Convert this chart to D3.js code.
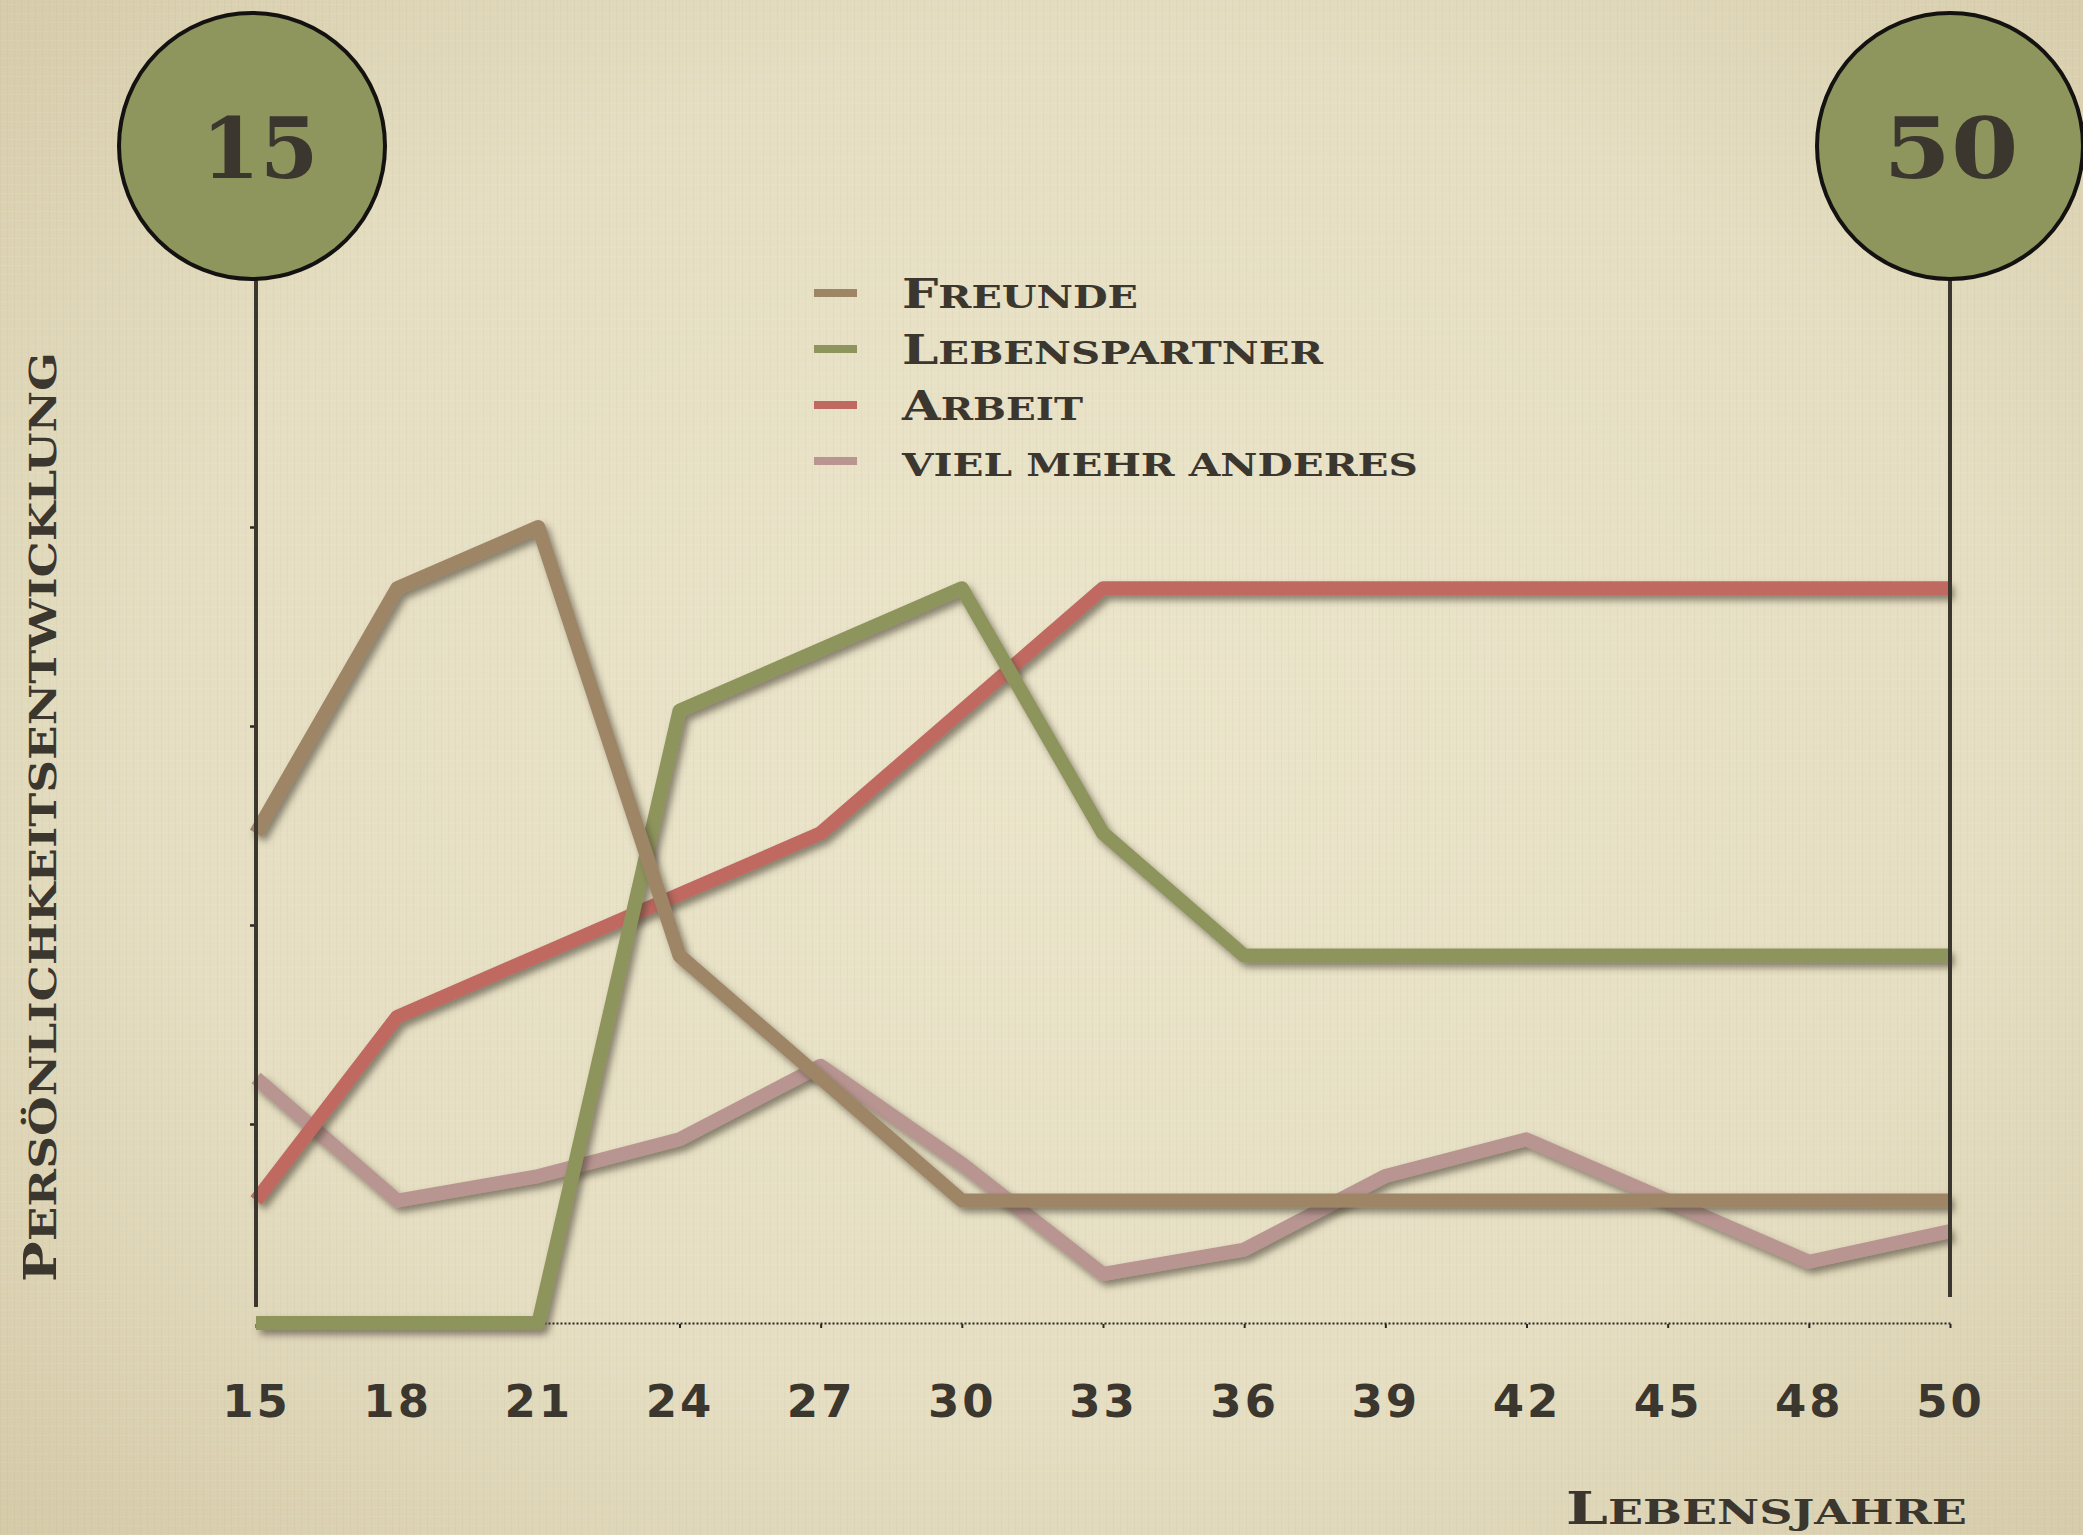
<!DOCTYPE html>
<meta charset="utf-8">
<script src="https://d3js.org/d3.v7.min.js"></script>
<style>
  body { margin: 0; background: #e4dcbf; }
  svg { display: block; }
  .ink { fill: #3b362e; }
  .axis text { fill: #3b362e; font-family: "DejaVu Sans", sans-serif; font-weight: bold; font-size: 45px; letter-spacing: 3px; }
</style>
<body>
<div id="chart"></div>
<script>

// categories (age) and series values
var ages = ["15","18","21","24","27","30","33","36","39","42","45","48","50"];
var freunde       = [8, 12, 13, 6, 4, 2, 2, 2, 2, 2, 2, 2, 2];
var lebenspartner = [0, 0, 0, 10, 11, 12, 8, 6, 6, 6, 6, 6, 6];
var arbeit        = [2, 5, 6, 7, 8, 10, 12, 12, 12, 12, 12, 12, 12];
var vielMehr      = [4, 2, 2.4, 3, 4.2, 2.6, 0.8, 1.2, 2.4, 3, 2, 1, 1.5];
var seriesNames   = ["Freunde", "Lebenspartner", "Arbeit", "viel mehr anderes"];
var yTicks        = [3.25, 6.5, 9.75, 13];
var endAges       = ["15", "50"];
var yTitle = "Persönlichkeitsentwicklung";
var xTitle = "Lebensjahre";

var W = 2083, H = 1535;
var colors = ["#9e8566", "#8e955c", "#c06961", "#b99592"];
var series = [freunde, lebenspartner, arbeit, vielMehr];

var svg = d3.select("#chart").append("svg")
    .attr("width", W).attr("height", H);

var defs = svg.append("defs");
var bg = defs.append("radialGradient").attr("id", "bg")
    .attr("cx", "52%").attr("cy", "48%").attr("r", "75%");
bg.append("stop").attr("offset", "0%").attr("stop-color", "#ebe5cb");
bg.append("stop").attr("offset", "60%").attr("stop-color", "#e5dec2");
bg.append("stop").attr("offset", "100%").attr("stop-color", "#d4c9a7");

// light linen weave
var pat = defs.append("pattern").attr("id", "linen")
    .attr("width", 7).attr("height", 9).attr("patternUnits", "userSpaceOnUse");
pat.append("rect").attr("x", 0).attr("y", 0).attr("width", 1).attr("height", 9)
    .attr("fill", "#8a7550").attr("opacity", 0.05);
pat.append("rect").attr("x", 0).attr("y", 4).attr("width", 7).attr("height", 1)
    .attr("fill", "#ffffff").attr("opacity", 0.06);

var shadow = defs.append("filter").attr("id", "shadow")
    .attr("filterUnits", "userSpaceOnUse")
    .attr("x", 0).attr("y", 0).attr("width", W).attr("height", H);
shadow.append("feDropShadow")
    .attr("dx", 4).attr("dy", 5).attr("stdDeviation", 3.5)
    .attr("flood-color", "#4a4330").attr("flood-opacity", 0.6);

svg.append("rect").attr("width", W).attr("height", H).attr("fill", "url(#bg)");
svg.append("rect").attr("width", W).attr("height", H).attr("fill", "url(#linen)");

var x = d3.scalePoint().domain(ages).range([256, 1950]);
var y = d3.scaleLinear().domain([0, 13]).range([1323, 527]);

// x axis: dotted baseline with small ticks, labels below
var xAxis = svg.append("g").attr("class", "axis")
    .attr("transform", "translate(0," + y(0) + ")")
    .call(d3.axisBottom(x).tickSize(4).tickSizeOuter(0).tickPadding(58));
xAxis.select(".domain").attr("stroke", "#2a2620").attr("stroke-width", 2)
    .attr("stroke-dasharray", "2,2");
xAxis.selectAll(".tick line").attr("stroke", "#2a2620").attr("stroke-width", 2)
    .attr("transform", "translate(0,1)");

var yAxis = svg.append("g")
    .attr("transform", "translate(254,0)")
    .call(d3.axisLeft(y).tickValues(yTicks).tickSize(4).tickFormat(""));
yAxis.select(".domain").remove();
yAxis.selectAll(".tick line").attr("stroke", "#2a2620").attr("stroke-width", 2.5);

// data lines, last series drawn first
var line = d3.line()
    .x(function(d, i) { return x(ages[i]); })
    .y(function(d) { return y(d); });

svg.append("g").selectAll("path")
  .data(d3.range(series.length).reverse())
  .enter().append("path")
    .attr("d", function(k) { return line(series[k]); })
    .attr("fill", "none")
    .attr("stroke", function(k) { return colors[k]; })
    .attr("stroke-width", 14)
    .attr("stroke-linejoin", "round")
    .attr("filter", "url(#shadow)");

// vertical markers and circles for the start and end age
var lineBottom = [1307, 1297];
endAges.forEach(function(a, i) {
  var cx = x(a), cy = 146, r = 133;
  svg.append("line")
      .attr("x1", cx).attr("x2", cx)
      .attr("y1", cy + r).attr("y2", lineBottom[i])
      .attr("stroke", "#3b362e").attr("stroke-width", 4);
  svg.append("circle")
      .attr("cx", cx - 4 * (i === 0 ? 1 : 0)).attr("cy", cy).attr("r", r)
      .attr("fill", "#8e955d").attr("stroke", "#141210").attr("stroke-width", 4);
  svg.append("text").attr("class", "ink")
      .attr("x", cx + (i === 0 ? 4 : 1)).attr("y", 178)
      .attr("text-anchor", "middle")
      .attr("textLength", i === 0 ? 117 : 135)
      .attr("lengthAdjust", i === 0 ? "spacing" : "spacingAndGlyphs")
      .style("font-family", "'DejaVu Serif', serif")
      .style("font-weight", "bold")
      .style("font-size", "84px")
      .text(a);
});

// small caps text helper
function smallCaps(g, str, big, small, len) {
  var t = g.append("text").attr("class", "ink")
      .style("font-family", "'DejaVu Serif', serif")
      .style("font-weight", "bold")
      .attr("textLength", len).attr("lengthAdjust", "spacingAndGlyphs");
  var first = str.charAt(0);
  var isCap = first === first.toUpperCase();
  if (isCap) {
    t.append("tspan").style("font-size", big + "px").text(first);
    t.append("tspan").style("font-size", small + "px").text(str.slice(1).toUpperCase());
  } else {
    t.append("tspan").style("font-size", small + "px").text(str.toUpperCase());
  }
  return t;
}

// legend
var legendY = [293, 349, 405, 461];
var legendLen = [236, 421, 181, 516];
var legend = svg.append("g");
seriesNames.forEach(function(name, i) {
  legend.append("rect")
      .attr("x", 814).attr("y", legendY[i] - 4)
      .attr("width", 43).attr("height", 8)
      .attr("fill", colors[i]);
  smallCaps(legend, name, 41, 32, legendLen[i])
      .attr("x", 902).attr("y", legendY[i] + 15);
});

// axis titles
var yt = svg.append("g").attr("transform", "translate(56,1282) rotate(-90)");
smallCaps(yt, yTitle, 44, 37, 930).attr("x", 0).attr("y", 0);

smallCaps(svg, xTitle, 44, 34, 401).attr("x", 1566).attr("y", 1524);

</script>
</body>
</html>
